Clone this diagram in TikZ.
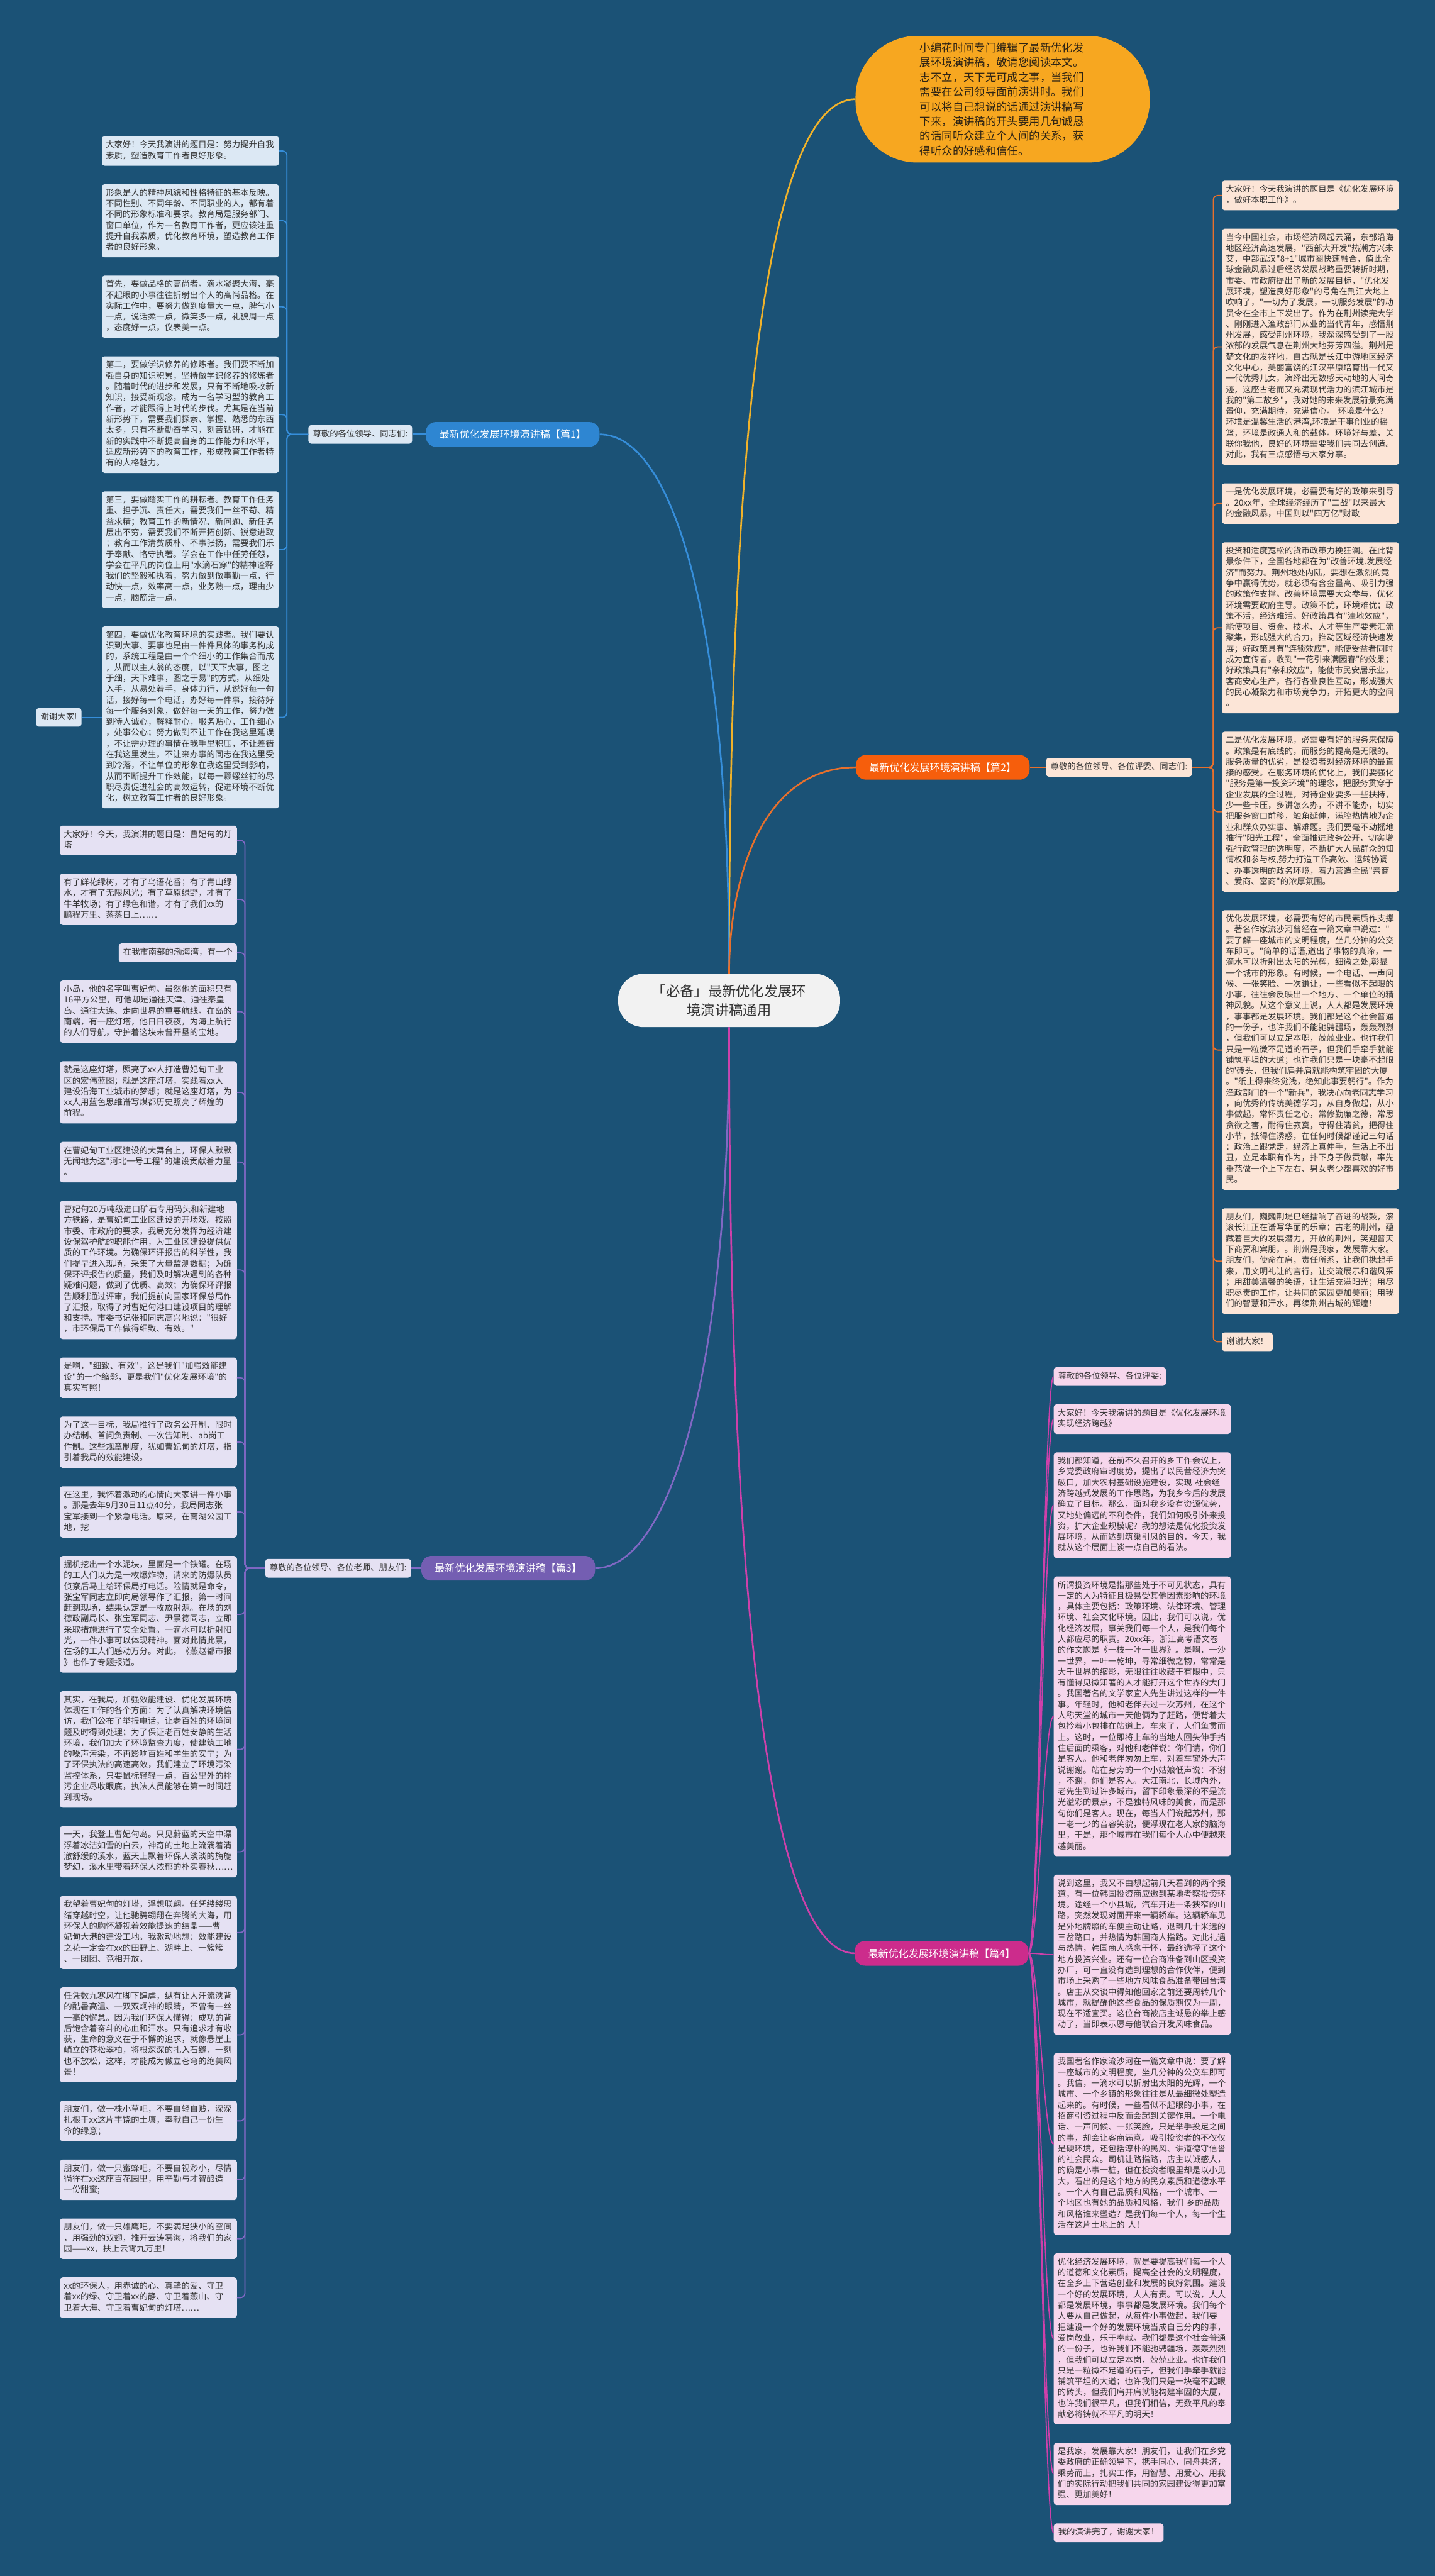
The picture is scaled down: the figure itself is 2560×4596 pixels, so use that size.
\documentclass[tikz,border=0pt]{standalone}
\usepackage{fontspec}
\newfontfamily\cjk{Noto Sans CJK SC}
\usetikzlibrary{positioning,calc}
\setlength{\parindent}{0pt}
\definecolor{bgc}{RGB}{27,82,118}
\definecolor{txtc}{RGB}{51,51,51}
\definecolor{mainc}{RGB}{242,242,242}
\definecolor{topc}{RGB}{247,167,32}
\definecolor{topl}{RGB}{240,178,42}
\definecolor{c1lab}{RGB}{46,134,210}
\definecolor{c1line}{RGB}{54,142,218}
\definecolor{c1fill}{RGB}{220,232,244}
\definecolor{c2lab}{RGB}{246,94,12}
\definecolor{c2line}{RGB}{232,112,44}
\definecolor{c2fill}{RGB}{252,229,215}
\definecolor{c3lab}{RGB}{116,94,178}
\definecolor{c3line}{RGB}{128,104,196}
\definecolor{c3fill}{RGB}{229,225,243}
\definecolor{c4lab}{RGB}{204,44,140}
\definecolor{c4line}{RGB}{206,64,170}
\definecolor{c4fill}{RGB}{246,214,236}

\begin{document}
\begin{tikzpicture}[x=1pt,y=1pt,node distance=32.5pt,
  tb/.style={text width=302pt,inner xsep=7pt,inner ysep=7pt,align=left,rounded corners=5pt,
    text=txtc,font=\cjk\fontsize{15}{19.4}\selectfont,
    execute at begin node=\strut,execute at end node=\strut},
  sb/.style={inner xsep=8pt,inner ysep=7pt,rounded corners=5pt,text=txtc,
    font=\cjk\fontsize{15}{19.4}\selectfont,execute at begin node=\strut},
  lab/.style={rounded corners=18pt,minimum height=44pt,inner xsep=24pt,text=white,
    font=\cjk\fontsize{18}{22}\selectfont},
  box1/.style={tb,fill=c1fill},box2/.style={tb,fill=c2fill},
  box3/.style={tb,fill=c3fill},box4/.style={tb,fill=c4fill},
  wire1/.style={draw=c1line,line width=2pt},wire2/.style={draw=c2line,line width=2pt},
  wire3/.style={draw=c3line,line width=2pt},wire4/.style={draw=c4line,line width=2pt},
  root/.style={line width=3pt}]
  \fill[bgc] (0,0) rectangle (2560,-4596);
  \useasboundingbox (0,0) rectangle (2560,-4596);

  \node[fill=mainc,rounded corners=45pt,minimum width=396pt,minimum height=95pt,align=center,
    text=txtc,font=\cjk\fontsize{25}{34}\selectfont] (M) at (1301,-1785)
    {「必备」最新优化发展环\\境演讲稿通用};
  \node[fill=topc,rounded corners=110pt,minimum width=525pt,minimum height=226pt,text width=295pt,
    align=left,text={rgb,255:red,45;green,35;blue,20},font=\cjk\fontsize{19.5}{26.3}\selectfont] (T) at (1789,-177)
    {小编花时间专门编辑了最新优化发\\展环境演讲稿，敬请您阅读本文。\\志不立，天下无可成之事，当我们\\需要在公司领导面前演讲时。我们\\可以将自己想说的话通过演讲稿写\\下来，演讲稿的开头要用几句诚恳\\的话同听众建立个人间的关系，获\\得听众的好感和信任。};

  \node[lab,fill=c1lab,anchor=east] (L1) at (1070,-775) {最新优化发展环境演讲稿【篇1】};
  \node[sb,fill=c1fill,left=24pt of L1] (N1) {尊敬的各位领导、同志们:};
  \node[lab,fill=c2lab,anchor=west] (L2) at (1527,-1369) {最新优化发展环境演讲稿【篇2】};
  \node[sb,fill=c2fill,right=29pt of L2] (N2) {尊敬的各位领导、各位评委、同志们:};
  \node[lab,fill=c3lab,anchor=east] (L3) at (1062,-2798) {最新优化发展环境演讲稿【篇3】};
  \node[sb,fill=c3fill,left=18pt of L3] (N3) {尊敬的各位领导、各位老师、朋友们:};
  \node[lab,fill=c4lab,anchor=west] (L4) at (1525,-3485) {最新优化发展环境演讲稿【篇4】};

  \node[box1,anchor=north east] (A1) at (498,-242.7)
    {大家好！今天我演讲的题目是：努力提升自我\\素质，塑造教育工作者良好形象。};
  \node[box1,below=of A1] (A2)
    {形象是人的精神风貌和性格特征的基本反映。\\不同性别、不同年龄、不同职业的人，都有着\\不同的形象标准和要求。教育局是服务部门、\\窗口单位，作为一名教育工作者，更应该注重\\提升自我素质，优化教育环境，塑造教育工作\\者的良好形象。};
  \node[box1,below=of A2] (A3)
    {首先，要做品格的高尚者。滴水凝聚大海，毫\\不起眼的小事往往折射出个人的高尚品格。在\\实际工作中，要努力做到度量大一点，脾气小\\一点，说话柔一点，微笑多一点，礼貌周一点\\，态度好一点，仪表美一点。};
  \node[box1,below=of A3] (A4)
    {第二，要做学识修养的修炼者。我们要不断加\\强自身的知识积累，坚持做学识修养的修炼者\\。随着时代的进步和发展，只有不断地吸收新\\知识，接受新观念，成为一名学习型的教育工\\作者，才能跟得上时代的步伐。尤其是在当前\\新形势下，需要我们探索、掌握、熟悉的东西\\太多，只有不断勤奋学习，刻苦钻研，才能在\\新的实践中不断提高自身的工作能力和水平，\\适应新形势下的教育工作，形成教育工作者特\\有的人格魅力。};
  \node[box1,below=of A4] (A5)
    {第三，要做踏实工作的耕耘者。教育工作任务\\重、担子沉、责任大，需要我们一丝不苟、精\\益求精；教育工作的新情况、新问题、新任务\\层出不穷，需要我们不断开拓创新、锐意进取\\；教育工作清贫质朴、不事张扬，需要我们乐\\于奉献、恪守执著。学会在工作中任劳任怨，\\学会在平凡的岗位上用"水滴石穿"的精神诠释\\我们的坚毅和执着，努力做到做事勤一点，行\\动快一点，效率高一点，业务熟一点，理由少\\一点，脑筋活一点。};
  \node[box1,below=of A5] (A6)
    {第四，要做优化教育环境的实践者。我们要认\\识到大事、要事也是由一件件具体的事务构成\\的，系统工程是由一个个细小的工作集合而成\\，从而以主人翁的态度，以"天下大事，图之\\于细，天下难事，图之于易"的方式，从细处\\入手，从易处着手，身体力行，从说好每一句\\话，接好每一个电话，办好每一件事，接待好\\每一个服务对象，做好每一天的工作，努力做\\到待人诚心，解释耐心，服务贴心，工作细心\\，处事公心；努力做到不让工作在我这里延误\\，不让需办理的事情在我手里积压，不让差错\\在我这里发生，不让来办事的同志在我这里受\\到冷落，不让单位的形象在我这里受到影响，\\从而不断提升工作效能，以每一颗螺丝钉的尽\\职尽责促进社会的高效运转，促进环境不断优\\化，树立教育工作者的良好形象。};
  \node[sb,fill=c1fill,left=36pt of A6] (E) {谢谢大家!};

  \node[box2,anchor=north west] (B1) at (2180,-322.2)
    {大家好！今天我演讲的题目是《优化发展环境\\，做好本职工作》。};
  \node[box2,below=of B1] (B2)
    {当今中国社会，市场经济风起云涌，东部沿海\\地区经济高速发展，"西部大开发"热潮方兴未\\艾，中部武汉"8+1"城市圈快速融合，值此全\\球金融风暴过后经济发展战略重要转折时期，\\市委、市政府提出了新的发展目标，"优化发\\展环境，塑造良好形象"的号角在荆江大地上\\吹响了，"一切为了发展，一切服务发展"的动\\员令在全市上下发出了。作为在荆州读完大学\\、刚刚进入渔政部门从业的当代青年，感悟荆\\州发展，感受荆州环境，我深深感受到了一股\\浓郁的发展气息在荆州大地芬芳四溢。荆州是\\楚文化的发祥地，自古就是长江中游地区经济\\文化中心，美丽富饶的江汉平原培育出一代又\\一代优秀儿女，演绎出无数感天动地的人间奇\\迹，这座古老而又充满现代活力的滨江城市是\\我的"第二故乡"，我对她的未来发展前景充满\\景仰，充满期待，充满信心。 环境是什么?\\环境是温馨生活的港湾,环境是干事创业的摇\\篮，环境是政通人和的载体。环境好与差，关\\联你我他，良好的环境需要我们共同去创造。\\对此，我有三点感悟与大家分享。};
  \node[box2,below=of B2] (B3)
    {一是优化发展环境，必需要有好的政策来引导\\。20xx年，全球经济经历了"二战"以来最大\\的金融风暴，中国则以"四万亿"财政};
  \node[box2,below=of B3] (B4)
    {投资和适度宽松的货币政策力挽狂澜。在此背\\景条件下，全国各地都在为"改善环境.发展经\\济"而努力。荆州地处内陆，要想在激烈的竞\\争中赢得优势，就必须有含金量高、吸引力强\\的政策作支撑。改善环境需要大众参与，优化\\环境需要政府主导。政策不优，环境难优；政\\策不活，经济难活。好政策具有"洼地效应"，\\能使项目、资金、技术、人才等生产要素汇流\\聚集，形成强大的合力，推动区域经济快速发\\展；好政策具有"连锁效应"，能使受益者同时\\成为宣传者，收到"一花引来满园春"的效果；\\好政策具有"亲和效应"，能使市民安居乐业，\\客商安心生产，各行各业良性互动，形成强大\\的民心凝聚力和市场竞争力，开拓更大的空间\\。};
  \node[box2,below=of B4] (B5)
    {二是优化发展环境，必需要有好的服务来保障\\。政策是有底线的，而服务的提高是无限的。\\服务质量的优劣，是投资者对经济环境的最直\\接的感受。在服务环境的优化上，我们要强化\\"服务是第一投资环境"的理念，把服务贯穿于\\企业发展的全过程，对待企业要多一些扶持，\\少一些卡压，多讲怎么办，不讲不能办，切实\\把服务窗口前移，触角延伸，满腔热情地为企\\业和群众办实事、解难题。我们要毫不动摇地\\推行"阳光工程"，全面推进政务公开，切实增\\强行政管理的透明度，不断扩大人民群众的知\\情权和参与权,努力打造工作高效、运转协调\\、办事透明的政务环境，着力营造全民"亲商\\、爱商、富商"的浓厚氛围。};
  \node[box2,below=of B5] (B6)
    {优化发展环境，必需要有好的市民素质作支撑\\。著名作家流沙河曾经在一篇文章中说过："\\要了解一座城市的文明程度，坐几分钟的公交\\车即可。"简单的话语,道出了事物的真谛，一\\滴水可以折射出太阳的光辉，细微之处,彰显\\一个城市的形象。有时候，一个电话、一声问\\候、一张笑脸、一次谦让，一些看似不起眼的\\小事，往往会反映出一个地方、一个单位的精\\神风貌。从这个意义上说，人人都是发展环境\\，事事都是发展环境。我们都是这个社会普通\\的一份子，也许我们不能驰骋疆场，轰轰烈烈\\，但我们可以立足本职，兢兢业业。也许我们\\只是一粒微不足道的石子，但我们手牵手就能\\铺筑平坦的大道；也许我们只是一块毫不起眼\\的'砖头，但我们肩并肩就能构筑牢固的大厦\\。"纸上得来终觉浅，绝知此事要躬行"。作为\\渔政部门的一个"新兵"，我决心向老同志学习\\，向优秀的传统美德学习，从自身做起，从小\\事做起，常怀责任之心，常修勤廉之德，常思\\贪欲之害，耐得住寂寞，守得住清贫，把得住\\小节，抵得住诱惑，在任何时候都谨记三句话\\：政治上跟党走，经济上真伸手，生活上不出\\丑，立足本职有作为，扑下身子做贡献，率先\\垂范做一个上下左右、男女老少都喜欢的好市\\民。};
  \node[box2,below=of B6] (B7)
    {朋友们，巍巍荆堤已经擂响了奋进的战鼓，滚\\滚长江正在谱写华丽的乐章；古老的荆州，蕴\\藏着巨大的发展潜力，开放的荆州，笑迎普天\\下商贾和宾朋，。荆州是我家，发展靠大家。\\朋友们，使命在肩，责任所系，让我们携起手\\来，用文明礼让的言行，让交流展示和谐风采\\；用甜美温馨的笑语，让生活充满阳光；用尽\\职尽责的工作，让共同的家园更加美丽；用我\\们的智慧和汗水，再续荆州古城的辉煌！};
  \node[sb,fill=c2fill,below=of B7.south west,anchor=north west] (B8) {谢谢大家！};

  \node[box3,anchor=north east] (C1) at (423,-1472.8)
    {大家好！今天，我演讲的题目是：曹妃甸的灯\\塔};
  \node[box3,below=of C1] (C2)
    {有了鲜花绿树，才有了鸟语花香；有了青山绿\\水，才有了无限风光；有了草原绿野，才有了\\牛羊牧场；有了绿色和谐，才有了我们xx的\\鹏程万里、蒸蒸日上……};
  \node[sb,fill=c3fill,below=of C2.south east,anchor=north east] (C3) {在我市南部的渤海湾，有一个};
  \node[box3,below=of C3.south east,anchor=north east] (C4)
    {小岛，他的名字叫曹妃甸。虽然他的面积只有\\16平方公里，可他却是通往天津、通往秦皇\\岛、通往大连、走向世界的重要航线。在岛的\\南端，有一座灯塔，他日日夜夜，为海上航行\\的人们导航，守护着这块未曾开垦的宝地。};
  \node[box3,below=of C4] (C5)
    {就是这座灯塔，照亮了xx人打造曹妃甸工业\\区的宏伟蓝图；就是这座灯塔，实践着xx人\\建设沿海工业城市的梦想；就是这座灯塔，为\\xx人用蓝色思维谱写煤都历史照亮了辉煌的\\前程。};
  \node[box3,below=of C5] (C6)
    {在曹妃甸工业区建设的大舞台上，环保人默默\\无闻地为这"河北一号工程"的建设贡献着力量\\。};
  \node[box3,below=of C6] (C7)
    {曹妃甸20万吨级进口矿石专用码头和新建地\\方铁路，是曹妃甸工业区建设的开场戏。按照\\市委、市政府的要求，我局充分发挥为经济建\\设保驾护航的职能作用，为工业区建设提供优\\质的工作环境。为确保环评报告的科学性，我\\们提早进入现场，采集了大量监测数据；为确\\保环评报告的质量，我们及时解决遇到的各种\\疑难问题，做到了优质、高效；为确保环评报\\告顺利通过评审，我们提前向国家环保总局作\\了汇报，取得了对曹妃甸港口建设项目的理解\\和支持。市委书记张和同志高兴地说："很好\\，市环保局工作做得细致、有效。"};
  \node[box3,below=of C7] (C8)
    {是啊，"细致、有效"，这是我们"加强效能建\\设"的一个缩影，更是我们"优化发展环境"的\\真实写照！};
  \node[box3,below=of C8] (C9)
    {为了这一目标，我局推行了政务公开制、限时\\办结制、首问负责制、一次告知制、ab岗工\\作制。这些规章制度，犹如曹妃甸的灯塔，指\\引着我局的效能建设。};
  \node[box3,below=of C9] (C10)
    {在这里，我怀着激动的心情向大家讲一件小事\\。那是去年9月30日11点40分，我局同志张\\宝军接到一个紧急电话。原来，在南湖公园工\\地，挖};
  \node[box3,below=of C10] (C11)
    {掘机挖出一个水泥块，里面是一个铁罐。在场\\的工人们以为是一枚爆炸物，请来的防爆队员\\侦察后马上给环保局打电话。险情就是命令，\\张宝军同志立即向局领导作了汇报，第一时间\\赶到现场，结果认定是一枚放射源。在场的刘\\德政副局长、张宝军同志、尹景德同志，立即\\采取措施进行了安全处置。一滴水可以折射阳\\光，一件小事可以体现精神。面对此情此景，\\在场的工人们感动万分。对此，《燕赵都市报\\》也作了专题报道。};
  \node[box3,below=of C11] (C12)
    {其实，在我局，加强效能建设、优化发展环境\\体现在工作的各个方面：为了认真解决环境信\\访，我们公布了举报电话，让老百姓的环境问\\题及时得到处理；为了保证老百姓安静的生活\\环境，我们加大了环境监查力度，使建筑工地\\的噪声污染，不再影响百姓和学生的安宁；为\\了环保执法的高速高效，我们建立了环境污染\\监控体系，只要鼠标轻轻一点，百公里外的排\\污企业尽收眼底，执法人员能够在第一时间赶\\到现场。};
  \node[box3,below=of C12] (C13)
    {一天，我登上曹妃甸岛。只见蔚蓝的天空中漂\\浮着冰洁如雪的白云，神奇的土地上流淌着清\\澈舒缓的溪水，蓝天上飘着环保人淡淡的旖旎\\梦幻，溪水里带着环保人浓郁的朴实春秋……};
  \node[box3,below=of C13] (C14)
    {我望着曹妃甸的灯塔，浮想联翩。任凭缕缕思\\绪穿越时空，让他驰骋翱翔在奔腾的大海，用\\环保人的胸怀凝视着效能提速的结晶——曹\\妃甸大港的建设工地。我激动地想：效能建设\\之花一定会在xx的田野上、湖畔上、一簇簇\\、一团团、竞相开放。};
  \node[box3,below=of C14] (C15)
    {任凭数九寒风在脚下肆虐，纵有让人汗流浃背\\的酷暑高温、一双双炯神的眼睛，不曾有一丝\\一毫的懈怠。因为我们环保人懂得：成功的背\\后饱含着奋斗的心血和汗水。只有追求才有收\\获，生命的意义在于不懈的追求，就像悬崖上\\峭立的苍松翠柏，将根深深的扎入石缝，一刻\\也不放松，这样，才能成为傲立苍穹的绝美风\\景！};
  \node[box3,below=of C15] (C16)
    {朋友们，做一株小草吧，不要自轻自贱，深深\\扎根于xx这片丰饶的土壤，奉献自己一份生\\命的绿意；};
  \node[box3,below=of C16] (C17)
    {朋友们，做一只蜜蜂吧，不要自视渺小，尽情\\徜徉在xx这座百花园里，用辛勤与才智酿造\\一份甜蜜;};
  \node[box3,below=of C17] (C18)
    {朋友们，做一只雄鹰吧，不要满足狭小的空间\\，用强劲的双翅，推开云涛雾海，将我们的家\\园——xx，扶上云霄九万里！};
  \node[box3,below=of C18] (C19)
    {xx的环保人，用赤诚的心、真挚的爱、守卫\\着xx的绿、守卫着xx的静、守卫着燕山、守\\卫着大海、守卫着曹妃甸的灯塔……};

  \node[sb,fill=c4fill,anchor=north west] (D1) at (1880,-2439) {尊敬的各位领导、各位评委:};
  \node[box4,below=of D1.south west,anchor=north west] (D2)
    {大家好！今天我演讲的题目是《优化发展环境\\ 实现经济跨越》};
  \node[box4,below=of D2] (D3)
    {我们都知道，在前不久召开的乡工作会议上，\\乡党委政府审时度势，提出了以民营经济为突\\破口，加大农村基础设施建设，实现 社会经\\济跨越式发展的工作思路，为我乡今后的发展\\确立了目标。那么，面对我乡没有资源优势，\\又地处偏远的不利条件，我们如何吸引外来投\\资，扩大企业规模呢？我的想法是优化投资发\\展环境，从而达到筑巢引凤的目的，今天，我\\就从这个层面上谈一点自己的看法。};
  \node[box4,below=of D3] (D4)
    {所谓投资环境是指那些处于不可见状态，具有\\一定的人为特征且极易受其他因素影响的环境\\，具体主要包括：政策环境、法律环境、管理\\环境、社会文化环境。因此，我们可以说，优\\化经济发展，事关我们每一个人，是我们每个\\人都应尽的职责。20xx年，浙江高考语文卷\\的作文题是《一枝一叶一世界》。是啊，一沙\\一世界，一叶一乾坤，寻常细微之物，常常是\\大千世界的缩影，无限往往收藏于有限中，只\\有懂得见微知著的人才能打开这个世界的大门\\。我国著名的文学家宜人先生讲过这样的一件\\事。年轻时，他和老伴去过一次苏州，在这个\\人称天堂的城市一天他俩为了赶路，便背着大\\包拎着小包排在站道上。车来了，人们鱼贯而\\上。这时，一位即将上车的当地人回头伸手挡\\住后面的乘客，对他和老伴说：你们请，你们\\是客人。他和老伴匆匆上车，对着车窗外大声\\说谢谢。站在身旁的一个小姑娘低声说：不谢\\，不谢，你们是客人。大江南北，长城内外，\\老先生到过许多城市，留下印象最深的不是流\\光溢彩的景点，不是独特风味的美食，而是那\\句你们是客人。现在，每当人们说起苏州，那\\一老一少的音容笑貌，便浮现在老人家的脑海\\里，于是，那个城市在我们每个人心中便越来\\越美丽。};
  \node[box4,below=of D4] (D5)
    {说到这里，我又不由想起前几天看到的两个报\\道，有一位韩国投资商应邀到某地考察投资环\\境。途经一个小县城，汽车开进一条狭窄的山\\路，突然发现对面开来一辆轿车。这辆轿车见\\是外地牌照的车便主动让路，退到几十米远的\\三岔路口，并热情为韩国商人指路。对此礼遇\\与热情，韩国商人感念于怀，最终选择了这个\\地方投资兴业。还有一位台商准备到山区投资\\办厂，可一直没有选到理想的合作伙伴，便到\\市场上采购了一些地方风味食品准备带回台湾\\。店主从交谈中得知他回家之前还要周转几个\\城市，就提醒他这些食品的保质期仅为一周，\\现在不适宜买。这位台商被店主诚恳的举止感\\动了，当即表示愿与他联合开发风味食品。};
  \node[box4,below=of D5] (D6)
    {我国著名作家流沙河在一篇文章中说：要了解\\一座城市的文明程度，坐几分钟的公交车即可\\。我信，一滴水可以折射出太阳的光辉，一个\\城市、一个乡镇的形象往往是从最细微处塑造\\起来的。有时候，一些看似不起眼的小事，在\\招商引资过程中反而会起到关键作用。一个电\\话、一声问候、一张笑脸，只是举手投足之间\\的事，却会让客商满意。吸引投资者的不仅仅\\是硬环境，还包括淳朴的民风、讲道德守信誉\\的社会民众。司机让路指路，店主以诚感人，\\的确是小事一桩，但在投资者眼里却是以小见\\大，看出的是这个地方的民众素质和道德水平\\。一个人有自己品质和风格，一个城市、一\\个地区也有她的品质和风格，我们 乡的品质\\和风格谁来塑造？是我们每一个人，每一个生\\活在这片土地上的 人！};
  \node[box4,below=of D6] (D7)
    {优化经济发展环境，就是要提高我们每一个人\\的道德和文化素质，提高全社会的文明程度，\\在全乡上下营造创业和发展的良好氛围。建设\\一个好的发展环境，人人有责。可以说，人人\\都是发展环境，事事都是发展环境。我们每个\\ 人要从自己做起，从每件小事做起，我们要\\把建设一个好的发展环境当成自己分内的事，\\爱岗敬业，乐于奉献。我们都是这个社会普通\\的一份子，也许我们不能驰骋疆场，轰轰烈烈\\，但我们可以立足本岗，兢兢业业。也许我们\\只是一粒微不足道的石子，但我们手牵手就能\\铺筑平坦的大道；也许我们只是一块毫不起眼\\的砖头，但我们肩并肩就能构建牢固的大厦，\\也许我们很平凡，但我们相信，无数平凡的奉\\献必将铸就不平凡的明天！};
  \node[box4,below=of D7] (D8)
    {是我家，发展靠大家！朋友们，让我们在乡党\\委政府的正确领导下，携手同心，同舟共济，\\乘势而上，扎实工作，用智慧、用爱心、用我\\们的实际行动把我们共同的家园建设得更加富\\强、更加美好！};
  \node[sb,fill=c4fill,below=of D8.south west,anchor=north west] (D9) {我的演讲完了，谢谢大家！};

  \draw[root,topl] (M.north) .. controls (1301,-700) and (1380,-177) .. (T.west);
  \draw[root,c1line] (M.north) .. controls (1301,-1100) and (1200,-775) .. (L1.east);
  \draw[root,c2line] (M.north) to[out=90,in=180] (L2.west);
  \draw[root,c3line] (M.south) .. controls (1301,-2470) and (1190,-2798) .. (L3.east);
  \draw[root,c4line] (M.south) .. controls (1301,-3050) and (1400,-3485) .. (L4.west);
  \draw[root,c1line] (L1.west) -- (N1.east);
  \draw[root,c2line] (L2.east) -- (N2.west);
  \draw[root,c3line] (L3.west) -- (N3.east);

  \coordinate (t1) at ($(N1.west -| A1.east)+(14,0)$);
  \coordinate (t2) at ($(N2.east -| B1.west)+(-15,0)$);
  \coordinate (t3) at ($(N3.west -| C1.east)+(14,0)$);
  \foreach \c in {A1,A2,A3,A4,A5,A6}
    \draw[wire1,rounded corners=8pt] (N1.west) -- (t1) |- (\c.east);
  \draw[wire1] (A6.west) -- (E.east);
  \foreach \c in {B1,B2,B3,B4,B5,B6,B7,B8}
    \draw[wire2,rounded corners=8pt] (N2.east) -- (t2) |- (\c.west);
  \foreach \c in {C1,C2,C3,C4,C5,C6,C7,C8,C9,C10,C11,C12,C13,C14,C15,C16,C17,C18,C19}
    \draw[wire3,rounded corners=8pt] (N3.west) -- (t3) |- (\c.east);
  \foreach \c in {D1,D2,D3,D4,D5,D6,D7,D8,D9}
    \draw[wire4] (L4.east) .. controls +(18,0) and +(-18,0) .. (\c.west);
\end{tikzpicture}
\end{document}
